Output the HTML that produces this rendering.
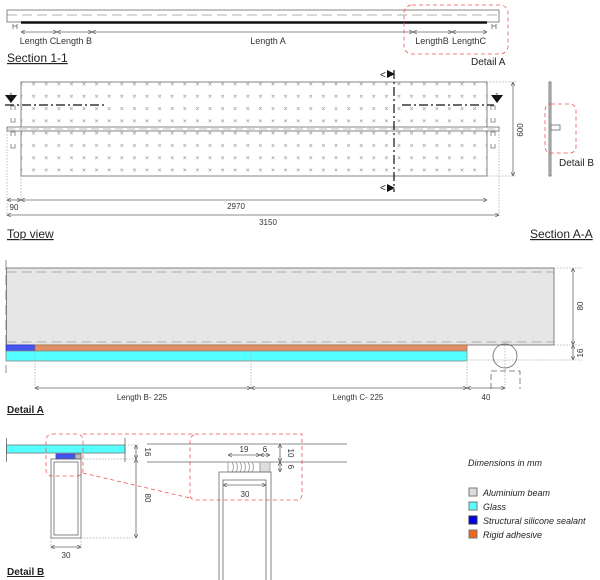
<!DOCTYPE html>
<html><head><style>
body{margin:0;background:#fff}
svg{display:block;font-family:"Liberation Sans",sans-serif}
</style></head><body>
<svg width="600" height="580" viewBox="0 0 600 580" xmlns="http://www.w3.org/2000/svg">
<defs>
<pattern id="xs" x="21" y="78" width="12.6" height="12.3" patternUnits="userSpaceOnUse">
<path d="M-1.3 4.7l2.6 2.6M1.3 4.7l-2.6 2.6M11.3 4.7l2.6 2.6M13.9 4.7l-2.6 2.6" stroke="#888" stroke-width="0.6"/>
</pattern>
<marker id="a" viewBox="0 0 6 6" refX="6" refY="3" markerWidth="5" markerHeight="5" orient="auto-start-reverse"><path d="M0 0L6 3L0 6" fill="none" stroke="#555" stroke-width="1"/></marker>
</defs>
<g stroke="#666" fill="none" stroke-width="0.8">
<rect x="7" y="10" width="492" height="12"/>
<line x1="7" y1="15" x2="499" y2="15" stroke-dasharray="10,5" stroke="#999"/>
<line x1="21" y1="22.5" x2="487" y2="22.5" stroke="#111" stroke-width="2.5"/>
<path d="M13 24v5M17 24v5M13 26h4M492 24v5M496 24v5M492 26h4"/>
<g marker-start="url(#a)" marker-end="url(#a)">
<line x1="21" y1="32" x2="57" y2="32"/><line x1="57" y1="32" x2="92" y2="32"/><line x1="92" y1="32" x2="413" y2="32"/><line x1="413" y1="32" x2="452" y2="32"/><line x1="452" y1="32" x2="487" y2="32"/>
</g>
<rect x="404" y="5" width="104" height="49" rx="8" stroke="#e55" stroke-dasharray="4,3"/>
<rect x="21" y="82" width="466" height="94"/>
<rect x="21" y="82" width="466" height="94" fill="url(#xs)" stroke="none"/>
<rect x="7" y="127" width="492" height="4" fill="#fff"/>
<line x1="7" y1="129" x2="499" y2="129" stroke-dasharray="8,4" stroke="#aaa"/>
<path d="M5 105H105M402 105H494" stroke="#111" stroke-width="1.2" stroke-dasharray="9,3,2,3"/>
<path d="M394 70V192" stroke="#111" stroke-width="1.2" stroke-dasharray="9,3,2,3"/>
<path d="M387 70L395 74L387 78Z M387 184L395 188L387 192Z" fill="#111" stroke="none"/>
<path d="M5 95h12l-6 8z M491 95h12l-6 8z" fill="#111" stroke="none"/>
<path d="M11 110v-4h4v4M11 118v4h4v-4M11 136v-4h4v4M11 144v4h4v-4M491 110v-4h4v4M491 118v4h4v-4M491 136v-4h4v4M491 144v4h4v-4" stroke="#777"/>
<path d="M487 82H516M487 176H516M21 176V200M7 131V216M499 131V216" stroke="#aaa" stroke-dasharray="1.5,1.5"/>
<line x1="513" y1="82" x2="513" y2="176" marker-start="url(#a)" marker-end="url(#a)"/>
<line x1="7" y1="200" x2="21" y2="200" marker-start="url(#a)" marker-end="url(#a)"/>
<line x1="21" y1="200" x2="487" y2="200" marker-start="url(#a)" marker-end="url(#a)"/>
<line x1="7" y1="215" x2="499" y2="215" marker-start="url(#a)" marker-end="url(#a)"/>
<rect x="549" y="82" width="2" height="94" fill="#ccc"/>
<rect x="551" y="125" width="9" height="5"/>
<rect x="545" y="104" width="31" height="49" rx="6" stroke="#e55" stroke-dasharray="4,3"/>
<rect x="6.5" y="268" width="547.5" height="77" fill="#e6e6e6"/>
<path d="M6.5 272H554M6.5 342H554" stroke="#999" stroke-dasharray="10,5"/>
<path d="M6 260V373" stroke="#777" stroke-dasharray="10,5"/>
<rect x="6" y="345" width="29" height="6" fill="#4455ee" stroke="#33c"/>
<rect x="35" y="345" width="432" height="6" fill="#e09066" stroke="#b06a44"/>
<rect x="6" y="351" width="461" height="10" fill="#5ff" stroke="#888"/>
<path d="M35 351V390M251 351V390M467 351V390M505 345V390M554 268H582M554 345H582M467 360H582" stroke="#aaa" stroke-dasharray="1.5,1.5"/>
<g marker-start="url(#a)" marker-end="url(#a)">
<line x1="35" y1="388" x2="251" y2="388"/><line x1="251" y1="388" x2="467" y2="388"/><line x1="467" y1="388" x2="505" y2="388"/>
<line x1="573" y1="268" x2="573" y2="345"/><line x1="573" y1="345" x2="573" y2="360"/>
</g>
<circle cx="505" cy="356" r="12"/>
<path d="M491 389V371H520V389" stroke-dasharray="6,3"/>
<rect x="6.5" y="445" width="118.5" height="8" fill="#5ff" stroke="#777"/>
<path d="M6.5 438V462M125 438V462"/>
<rect x="56" y="454" width="19" height="5" fill="#4455ee" stroke="#33c"/>
<rect x="75" y="454" width="6" height="5" fill="#bbb"/>
<rect x="51" y="459" width="30" height="79"/>
<rect x="54" y="462" width="24" height="73"/>
<path d="M81 459H138M81 538H138M51 538V550M81 538V550M125 445H138" stroke="#aaa" stroke-dasharray="1.5,1.5"/>
<g marker-start="url(#a)" marker-end="url(#a)">
<line x1="136" y1="445" x2="136" y2="459"/><line x1="136" y1="459" x2="136" y2="538"/><line x1="51" y1="547" x2="81" y2="547"/>
<line x1="228" y1="455" x2="260" y2="455"/><line x1="260" y1="455" x2="270" y2="455"/>
<line x1="280" y1="444" x2="280" y2="462"/><line x1="280" y1="462" x2="280" y2="472"/>
<line x1="223" y1="485" x2="266" y2="485"/>
</g>
<path d="M147 444H347M147 462H347"/>
<rect x="228" y="462" width="32" height="10" stroke="#999"/>
<path d="M232 462q3 5 0 10M236 462q3 5 0 10M240 462q3 5 0 10M244 462q3 5 0 10M248 462q3 5 0 10M252 462q3 5 0 10" stroke="#999"/>
<rect x="260" y="462" width="10" height="10" fill="#ddd" stroke="#999"/>
<path d="M219 580V472H271V580M223 580V480H266V580"/>
<rect x="46" y="434" width="37" height="42" rx="6" stroke="#e55" stroke-dasharray="4,3"/>
<path d="M83 434H302Q302 434 302 440V494Q302 500 296 500H196Q190 500 190 494V442Q190 434 198 434" stroke="#e55" stroke-dasharray="4,3"/>
<path d="M83 473L190 498" stroke="#e55" stroke-dasharray="4,3"/>
</g>
<g font-size="8" fill="#333" text-anchor="middle">
<text x="38" y="44" font-size="9">Length C</text><text x="74" y="44" font-size="9">Length B</text><text x="268" y="44" font-size="9">Length A</text><text x="432" y="44" font-size="9">LengthB</text><text x="469" y="44" font-size="9">LengthC</text>
<text x="11" y="98" font-size="7">1</text><text x="497" y="98" font-size="7">1</text>
<text x="236" y="209">2970</text><text x="14" y="210">90</text><text x="268" y="225">3150</text>
<text x="142" y="400">Length B- 225</text><text x="358" y="400">Length C- 225</text><text x="486" y="400">40</text>
<text x="66" y="558">30</text><text x="244" y="452">19</text><text x="265" y="452">6</text><text x="245" y="497">30</text>
<text transform="translate(523,130) rotate(-90)">600</text>
<text transform="translate(583,306) rotate(-90)">80</text>
<text transform="translate(583,353) rotate(-90)">16</text>
<text transform="translate(145,452) rotate(90)">16</text>
<text transform="translate(145,498) rotate(90)">80</text>
<text transform="translate(288,453) rotate(90)">10</text>
<text transform="translate(288,467) rotate(90)">6</text>
</g>
<g font-size="10" fill="#222">
<text x="380" y="78">&lt;</text><text x="380" y="191">&lt;</text>
<text x="7" y="62" font-size="12" text-decoration="underline">Section 1-1</text>
<text x="471" y="65">Detail A</text>
<text x="559" y="166">Detail B</text>
<text x="7" y="238" font-size="12" text-decoration="underline">Top view</text>
<text x="530" y="238" font-size="12" text-decoration="underline">Section A-A</text>
<text x="7" y="413" font-weight="bold" text-decoration="underline">Detail A</text>
<text x="7" y="575" font-weight="bold" text-decoration="underline">Detail B</text>
<g font-style="italic" font-size="9">
<text x="468" y="466">Dimensions in mm</text>
<text x="483" y="496">Aluminium beam</text><text x="483" y="510">Glass</text><text x="483" y="524">Structural silicone sealant</text><text x="483" y="538">Rigid adhesive</text>
</g>
</g>
<rect x="469" y="488" width="8" height="8" fill="#ddd" stroke="#777"/>
<rect x="469" y="502" width="8" height="8" fill="#5ff" stroke="#777"/>
<rect x="469" y="516" width="8" height="8" fill="#0000ee" stroke="#333"/>
<rect x="469" y="530" width="8" height="8" fill="#ee6622" stroke="#777"/>
</svg>
</body></html>
